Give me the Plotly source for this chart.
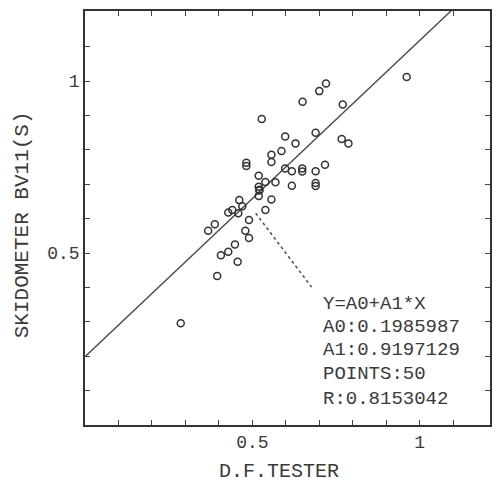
import plotly.graph_objects as go
import numpy as np

# Data
df_tester = [0.286, 0.395, 0.368, 0.388, 0.406, 0.428, 0.448, 0.456, 0.428, 0.440,
             0.458, 0.461, 0.470, 0.479, 0.490, 0.490, 0.482, 0.482, 0.519, 0.519,
             0.521, 0.519, 0.539, 0.539, 0.528, 0.557, 0.569, 0.557, 0.557, 0.587,
             0.598, 0.598, 0.618, 0.618, 0.629, 0.649, 0.649, 0.650, 0.689, 0.689,
             0.689, 0.689, 0.700, 0.720, 0.717, 0.770, 0.767, 0.787, 0.961, 0.521]
skidometer = [0.296, 0.433, 0.565, 0.584, 0.494, 0.504, 0.525, 0.475, 0.618, 0.625,
              0.616, 0.654, 0.636, 0.565, 0.596, 0.544, 0.763, 0.753, 0.725, 0.693,
              0.682, 0.666, 0.707, 0.625, 0.890, 0.656, 0.706, 0.786, 0.765, 0.797,
              0.839, 0.746, 0.738, 0.696, 0.819, 0.746, 0.737, 0.940, 0.850, 0.738,
              0.704, 0.695, 0.971, 0.993, 0.757, 0.932, 0.832, 0.819, 1.012, 0.684]

a0 = 0.1985987
a1 = 0.9197129
n_points = 50
r_value = 0.8153042

fit_x = [0.0, 1.2]
leader_x = [0.510, 0.677]
leader_y = [0.616, 0.401]

minor_ticks = [0.1, 0.2, 0.3, 0.4, 0.5, 0.6, 0.7, 0.8, 0.9, 1.0, 1.1]
x_labels = {0.5: "0.5", 1.0: "1"}
y_labels = {0.5: "0.5", 1.0: "1"}

x_title = "D.F.TESTER"
y_title = "SKIDOMETER BV11(S)"
info_lines = ["Y=A0+A1*X", "A0:%.7f" % a0, "A1:%.7f" % a1,
              "POINTS:%d" % n_points, "R:%.7f" % r_value]

FONT = "Liberation Mono, Courier New, monospace"
INK = "#3a3a3a"

fig = go.Figure()
fig.add_trace(go.Scatter(
    x=fit_x, y=[a0 + a1 * v for v in fit_x], mode="lines",
    line=dict(color="#4a4a4a", width=1.4), showlegend=False, hoverinfo="skip"))
fig.add_trace(go.Scatter(
    x=leader_x, y=leader_y, mode="lines",
    line=dict(color="#555555", width=1.6, dash="dot"), showlegend=False))
fig.add_trace(go.Scatter(
    x=df_tester, y=skidometer, mode="markers",
    marker=dict(symbol="circle-open", size=7, color="#333333",
                line=dict(width=1.5, color="#333333")),
    showlegend=False))

line_y = [0.352, 0.284, 0.219, 0.148, 0.077]
for txt, yy in zip(info_lines, line_y):
    fig.add_annotation(x=0.704, y=yy, xref="x", yref="y", text=txt,
                       showarrow=False, xanchor="left", yanchor="middle",
                       font=dict(family=FONT, size=19, color=INK))

fig.add_annotation(x=-0.046, y=-0.038, xref="x", yref="y", text="0",
                   showarrow=False, xanchor="center", yanchor="middle",
                   font=dict(family=FONT, size=18, color=INK))

axis_common = dict(showgrid=False, zeroline=False, showline=True, linecolor="#333333",
                   linewidth=1.5, mirror="ticks", ticks="inside", ticklen=5,
                   tickwidth=1.2, tickcolor="#444444", tickvals=minor_ticks,
                   tickfont=dict(family=FONT, size=18, color=INK))

fig.update_layout(
    width=498, height=485,
    margin=dict(l=85, r=6, t=11, b=60),
    paper_bgcolor="white", plot_bgcolor="white",
    xaxis=dict(range=[0, 1.21],
               ticktext=[x_labels.get(v, "") for v in minor_ticks], **axis_common),
    yaxis=dict(range=[0, 1.204],
               ticktext=[y_labels.get(v, "") for v in minor_ticks], **axis_common),
)
fig.add_annotation(x=0.479, y=-0.113, xref="paper", yref="paper", text=x_title,
                   showarrow=False, xanchor="center", yanchor="middle",
                   font=dict(family=FONT, size=20, color=INK))
fig.add_annotation(x=-0.155, y=0.483, xref="paper", yref="paper", text=y_title,
                   showarrow=False, textangle=-90, xanchor="center", yanchor="middle",
                   font=dict(family=FONT, size=21, color=INK))

fig.write_html("out.html")
